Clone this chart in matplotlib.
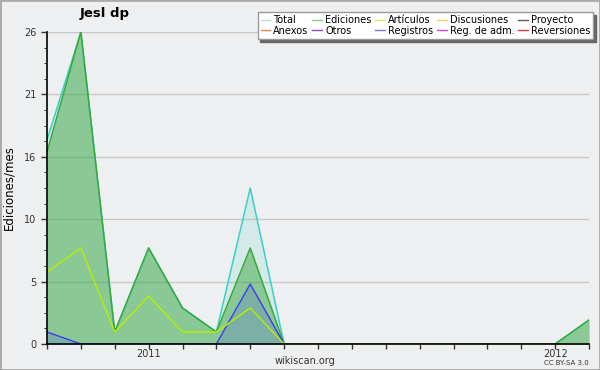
import numpy as np
import matplotlib
matplotlib.use('Agg')
import matplotlib.pyplot as plt
from matplotlib.ticker import MultipleLocator, FixedLocator
from matplotlib.patches import Rectangle

# monthly values, Oct 2010 .. Feb 2012
months = ['2010-10', '2010-11', '2010-12', '2011-01', '2011-02', '2011-03',
          '2011-04', '2011-05', '2011-06', '2011-07', '2011-08', '2011-09',
          '2011-10', '2011-11', '2011-12', '2012-01', '2012-02']
total = [17, 26, 1, 8, 3, 1, 13, 0, 0, 0, 0, 0, 0, 0, 0, 0, 2]
ediciones = [16, 26, 1, 8, 3, 1, 8, 0, 0, 0, 0, 0, 0, 0, 0, 0, 2]
articulos = [6, 8, 1, 4, 1, 1, 3, 0, 0, 0, 0, 0, 0, 0, 0, 0, 0]
registros = [1, 0, 0, 0, 0, 0, 5, 0, 0, 0, 0, 0, 0, 0, 0, 0, 0]

legend_names = ['Total', 'Anexos', 'Ediciones', 'Otros', 'Artículos', 'Registros',
                'Discusiones', 'Reg. de adm.', 'Proyecto', 'Reversiones']
legend_colors = ['#a8e4e0', '#f08848', '#88c888', '#8848d8', '#d4f060', '#7878f0',
                 '#f8d060', '#d048e0', '#606060', '#e83838']

bg = '#eeeff1'
x = np.arange(len(months))

fig = plt.figure(figsize=(6, 3.7), dpi=100, facecolor=bg)
ax = fig.add_axes([47/600, 26/370, 542/600, 312/370])
ax.set_facecolor(bg)

ax.fill_between(x, total, color='#40d0c0', alpha=0.15, lw=0)
ax.fill_between(x, ediciones, color='#30a030', alpha=0.45, lw=0)
ax.fill_between(x, registros, color='#4040f0', alpha=0.18, lw=0)
ax.plot(x, total, color='#38d0c8', lw=1.1)
ax.plot(x, ediciones, color='#38a838', lw=1.1)
ax.plot(x, registros, color='#3c3cf0', lw=1.0)
ax.plot(x, articulos, color='#b8f000', lw=1.0)

ax.set_xlim(0, len(months) - 1)
ax.set_ylim(0, 26)
yt = np.arange(0, 26.01, 5.2)
ax.yaxis.set_major_locator(FixedLocator(yt))
ax.set_yticklabels([str(int(round(v))) for v in yt])
ax.yaxis.set_minor_locator(MultipleLocator(1.3))
ax.yaxis.grid(True, color='#c8c8c8', lw=1)
ax.set_axisbelow(True)

ax.set_xticks(x)
ax.set_xticklabels([m[:4] if m.endswith('-01') else '' for m in months])
ax.tick_params(axis='both', labelsize=7, colors='#333333', length=4, width=1)
ax.tick_params(axis='y', which='minor', length=2.5)
ax.tick_params(axis='x', pad=0, length=3.5)
for s in ['top', 'right']:
    ax.spines[s].set_visible(False)
for s in ['left', 'bottom']:
    ax.spines[s].set_color('black')
    ax.spines[s].set_linewidth(1.2)
    ax.spines[s].set_zorder(5)

ax.set_ylabel('Ediciones/mes', fontsize=8.5, labelpad=6)
fig.text(105/600, 1 - 14/370, 'Jesl dp', fontsize=9.5, fontweight='bold', ha='center', va='center')

handles = [plt.Line2D([], [], color=c, lw=1) for c in legend_colors]
leg = fig.legend(handles, legend_names, ncol=5, loc='upper right',
                 bbox_to_anchor=(593/600, 1 - 12/370), fontsize=7, frameon=True,
                 fancybox=False, shadow={'color': '#666666', 'alpha': 1},
                 handlelength=1.0, handletextpad=0.3, columnspacing=0.4,
                 labelspacing=0.1, borderpad=0.3, borderaxespad=0)
leg.get_frame().set_edgecolor('#999999')
leg.get_frame().set_facecolor('white')

fig.text(305/600, 1 - 361/370, 'wikiscan.org', fontsize=7, ha='center', va='center', color='#333333')
fig.text(566/600, 1 - 363/370, 'CC BY-SA 3.0', fontsize=5, ha='center', va='center', color='#333333')
fig.patches.append(Rectangle((0, 0), 1, 1, transform=fig.transFigure, fill=False,
                             edgecolor='#aaaaaa', lw=2))

fig.savefig('out.png', dpi=100, facecolor=bg)
